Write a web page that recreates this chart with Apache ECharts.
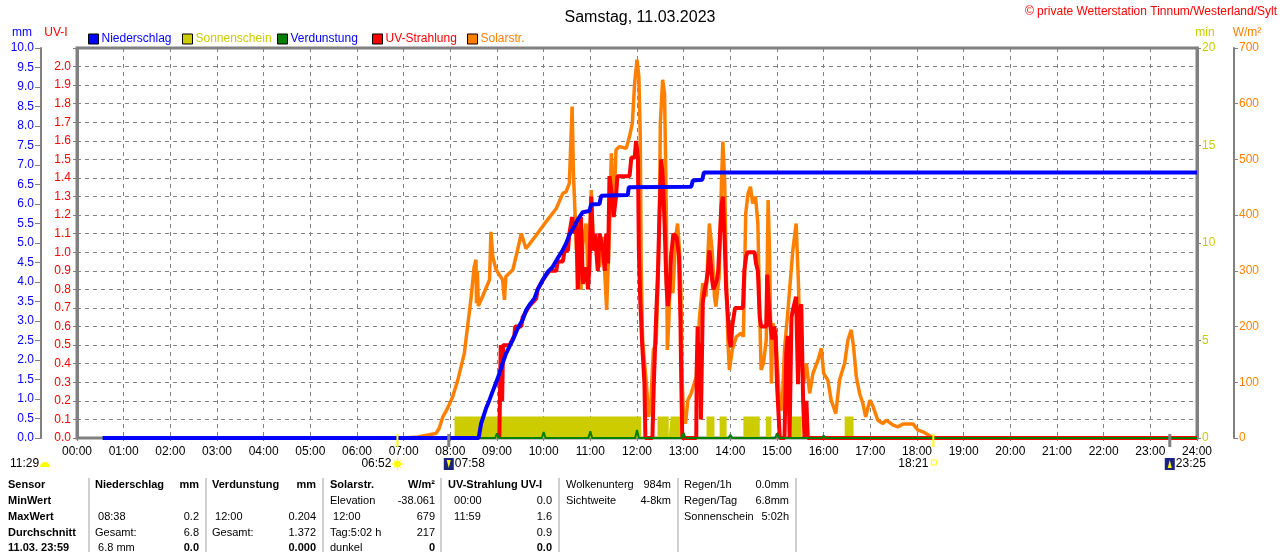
<!DOCTYPE html>
<html>
<head>
<meta charset="utf-8">
<title>Wetterstation Tinnum</title>
<script src="https://cdn.jsdelivr.net/npm/echarts@6/dist/echarts.min.js"></script>
<style>
  html, body { margin: 0; padding: 0; background: #fff; }
  #chart { width: 1280px; height: 552px; }
</style>
</head>
<body>
<div id="chart"></div>
<script>
// Niederschlag, kumuliert (Stunde, mm)
const rain = [[0.55,0],[8.607,0],[8.659,0.37],[8.766,0.76],[8.837,0.97],[8.944,1.31],[9.015,1.53],[9.122,1.92],[9.195,2.17],[9.336,2.51],[9.443,2.81],[9.551,3.03],[9.624,3.28],[9.694,3.41],[9.802,3.58],[9.873,3.81],[9.98,4.05],[10.087,4.26],[10.194,4.39],[10.301,4.61],[10.409,4.82],[10.481,4.99],[10.552,5.21],[10.659,5.43],[10.73,5.6],[10.837,5.79],[10.98,5.82],[11.018,5.99],[11.196,6.0],[11.232,6.21],[11.803,6.23],[11.824,6.43],[13.162,6.44],[13.197,6.6],[13.398,6.62],[13.433,6.81],[24,6.81]];

// Sonnenschein: Anfang / Ende der Sonnenphasen (Stunde), Höhe in min
const sunStart = [8.09, 12.44, 12.72, 13.49, 13.77, 14.28, 14.76, 15.31, 16.45];
const sunEnd   = [12.09, 12.68, 12.93, 13.66, 13.92, 14.63, 14.88, 15.53, 16.64];
const sunLevel = 1.1;

// Verdunstung je Stunde (mm)
const evapHours  = [1, 9, 10, 11, 12, 13, 14, 15, 16, 17, 18];
const evapValues = [0.01, 0.12, 0.15, 0.17, 0.204, 0.13, 0.08, 0.12, 0.06, 0.03, 0.02];

// UV-Strahlung (Stunde, UV-I)
const uv = [[9.05,0],[9.07,0],[9.08,0.5],[9.11,0.2],[9.13,0.5],[9.27,0.5],[9.37,0.55],[9.39,0.6],[9.52,0.6],[9.55,0.65],[9.69,0.71],[9.84,0.75],[9.87,0.8],[9.98,0.85],[10.12,0.9],[10.27,0.9],[10.30,0.95],[10.41,0.95],[10.45,1.01],[10.52,1.01],[10.55,1.1],[10.61,1.19],[10.66,1.1],[10.70,1.16],[10.73,0.8],[10.77,1.01],[10.80,1.19],[10.84,0.83],[10.91,0.92],[10.95,0.8],[10.98,0.92],[11.02,1.3],[11.06,1.01],[11.10,1.1],[11.16,0.9],[11.20,1.1],[11.27,1.01],[11.31,0.9],[11.34,1.1],[11.38,0.94],[11.41,1.41],[11.47,1.29],[11.50,1.19],[11.55,1.3],[11.58,1.41],[11.84,1.41],[11.88,1.51],[11.95,1.51],[11.98,1.6],[12.02,1.51],[12.04,1.01],[12.07,0.74],[12.11,0.51],[12.16,0.29],[12.18,0],[12.33,0],[12.36,0.29],[12.41,0.65],[12.45,0.9],[12.48,1.19],[12.52,1.5],[12.55,1.41],[12.59,1.16],[12.63,0.83],[12.66,0.71],[12.70,0.8],[12.73,0.98],[12.78,1.1],[12.85,1.08],[12.90,0.98],[12.93,0.65],[12.95,0.29],[12.97,0],[13.27,0],[13.28,0.38],[13.30,0.6],[13.32,0.29],[13.35,0.51],[13.37,0.1],[13.41,0.73],[13.45,0.8],[13.48,0.83],[13.52,0.9],[13.55,1.01],[13.58,0.94],[13.61,0.85],[13.64,0.8],[13.71,0.85],[13.74,0.9],[13.81,1.25],[13.84,1.3],[13.88,1.05],[13.91,0.8],[13.95,0.65],[13.98,0.53],[14.01,0.49],[14.04,0.6],[14.10,0.7],[14.27,0.7],[14.30,0.9],[14.34,0.98],[14.37,1.0],[14.52,1.0],[14.55,0.94],[14.59,0.9],[14.63,0.65],[14.66,0.6],[14.77,0.6],[14.79,0.88],[14.82,0.74],[14.86,0.6],[14.90,0.53],[14.94,0.6],[14.97,0.55],[15.0,0.29],[15.06,0],[15.16,0],[15.20,0.46],[15.23,0.55],[15.27,0],[15.31,0.65],[15.34,0.69],[15.41,0.76],[15.45,0.29],[15.48,0.69],[15.52,0.72],[15.56,0.2],[15.59,0],[15.63,0.2],[15.66,0],[24,0]];

// Solarstrahlung (Stunde, W/m²)
const solar = [[0.55,0],[7.0,0],[7.30,2],[7.69,8],[7.76,17],[7.84,38],[7.94,53],[8.05,74],[8.16,104],[8.23,128],[8.30,152],[8.37,200],[8.44,248],[8.51,307],[8.55,320],[8.56,242],[8.58,300],[8.60,237],[8.69,254],[8.84,284],[8.87,370],[8.91,325],[8.98,302],[9.12,284],[9.16,248],[9.19,290],[9.34,302],[9.44,337],[9.52,367],[9.62,340],[9.84,364],[10.05,388],[10.27,412],[10.41,439],[10.48,442],[10.55,457],[10.61,595],[10.64,469],[10.67,409],[10.70,337],[10.73,397],[10.77,325],[10.80,266],[10.84,349],[10.91,385],[10.95,290],[11.02,445],[11.07,337],[11.12,349],[11.20,307],[11.27,361],[11.35,230],[11.41,373],[11.45,511],[11.50,397],[11.55,517],[11.62,523],[11.77,520],[11.84,541],[11.90,565],[11.95,637],[12.00,679],[12.04,649],[12.07,541],[12.09,307],[12.12,176],[12.20,98],[12.25,38],[12.30,68],[12.35,158],[12.41,170],[12.45,278],[12.48,397],[12.50,565],[12.55,643],[12.59,619],[12.61,517],[12.63,397],[12.65,158],[12.68,206],[12.71,278],[12.77,260],[12.83,361],[12.87,385],[12.91,337],[12.94,266],[12.97,98],[13.00,32],[13.04,26],[13.09,68],[13.16,80],[13.27,110],[13.34,218],[13.41,278],[13.48,254],[13.55,385],[13.61,337],[13.66,254],[13.69,236],[13.76,290],[13.81,457],[13.84,532],[13.88,457],[13.91,307],[13.95,170],[13.98,122],[14.04,158],[14.13,182],[14.23,188],[14.28,182],[14.33,403],[14.38,439],[14.43,451],[14.48,421],[14.54,433],[14.59,385],[14.63,218],[14.66,122],[14.71,134],[14.77,176],[14.81,427],[14.84,337],[14.88,98],[14.91,206],[14.97,188],[15.06,56],[15.11,50],[15.16,158],[15.23,224],[15.31,307],[15.34,337],[15.41,385],[15.46,278],[15.49,160],[15.52,146],[15.57,98],[15.63,134],[15.70,80],[15.77,116],[15.88,140],[15.95,161],[16.00,116],[16.09,104],[16.16,68],[16.26,44],[16.34,104],[16.45,134],[16.52,176],[16.59,194],[16.64,164],[16.70,110],[16.77,80],[16.84,62],[16.90,38],[16.99,68],[17.06,56],[17.16,32],[17.27,26],[17.34,32],[17.49,23],[17.59,20],[17.70,25],[17.92,25],[18.02,14],[18.13,11],[18.27,4],[18.35,0],[24,0]];

// Sonnen- / Mondzeiten (Stunde) unter der Zeitachse
const sunrise = 6 + 52 / 60, sunset = 18 + 21 / 60;
const moonrise = 7 + 58 / 60, moonset = 23 + 25 / 60;

// Tabelle unter dem Diagramm
const tableCols = [
  { x: 8, w: 0, rows: [["Sensor", ""], ["MinWert", ""], ["MaxWert", ""], ["Durchschnitt", ""], ["11.03. 23:59", ""]], bold: true },
  { x: 95, w: 104, rows: [["Niederschlag", "mm"], ["", ""], [" 08:38", "0.2"], ["Gesamt:", "6.8"], [" 6.8 mm", "0.0"]] },
  { x: 212, w: 104, rows: [["Verdunstung", "mm"], ["", ""], [" 12:00", "0.204"], ["Gesamt:", "1.372"], ["", "0.000"]] },
  { x: 330, w: 105, rows: [["Solarstr.", "W/m²"], ["Elevation", "-38.061"], [" 12:00", "679"], ["Tag:5:02 h", "217"], ["dunkel", "0"]] },
  { x: 448, w: 104, rows: [["UV-Strahlung UV-I", ""], ["  00:00", "0.0"], ["  11:59", "1.6"], ["", "0.9"], ["", "0.0"]] },
  { x: 566, w: 105, rows: [["Wolkenunterg", "984m"], ["Sichtweite", "4-8km"], ["", ""], ["", ""], ["", ""]], plain: true },
  { x: 684, w: 105, rows: [["Regen/1h", "0.0mm"], ["Regen/Tag", "6.8mm"], ["Sonnenschein", "5:02h"], ["", ""], ["", ""]], plain: true }
];
const tableRowsY = [485, 501, 517, 533, 548];
const tableSeps = [89, 206, 323, 441, 559, 678, 796];

const FONT = "Liberation Sans, Arial, sans-serif";
const GRAY = "#808080";

function pad(n) { return (n < 10 ? "0" : "") + n; }

function sunData() {
  const d = [[0.55, 0]];
  sunStart.forEach((a, i) => {
    d.push([a, 0], [a, sunLevel], [sunEnd[i], sunLevel], [sunEnd[i], 0]);
  });
  d.push([24, 0]);
  return d;
}

function evapData() {
  const d = [[0.55, 0]];
  evapHours.forEach((h, i) => {
    d.push([h - 0.04, 0], [h, evapValues[i]], [h + 0.04, 0]);
  });
  d.push([24, 0]);
  return d;
}

const chart = echarts.init(document.getElementById("chart"));

function legendAt(left, name, color) {
  return {
    left: left, top: 33, padding: 0, itemWidth: 10, itemHeight: 10, icon: "rect",
    data: [name], selectedMode: false,
    itemStyle: { borderColor: "#000", borderWidth: 1 },
    textStyle: { color: color, fontSize: 12, fontFamily: FONT, padding: [1, 0, 0, -2] }
  };
}

const option = {
  animation: false,
  backgroundColor: "#fff",
  title: {
    text: "Samstag, 11.03.2023", left: "center", top: 5,
    textStyle: { fontSize: 16, fontWeight: "normal", color: "#000", fontFamily: FONT }
  },
  legend: [
    legendAt(88, "Niederschlag", "#0000ff"),
    legendAt(182, "Sonnenschein", "#cccc00"),
    legendAt(277, "Verdunstung", "#0000ff"),
    legendAt(372, "UV-Strahlung", "#ff0000"),
    legendAt(467, "Solarstr.", "#ff8000")
  ],
  grid: { left: 77, right: 83, top: 48, bottom: 114, show: true, borderColor: GRAY, borderWidth: 3, containLabel: false },
  xAxis: {
    type: "value", min: 0, max: 24, interval: 1,
    axisLine: { lineStyle: { color: GRAY, width: 1 } },
    axisTick: { length: 3, lineStyle: { color: GRAY } },
    axisLabel: { color: "#000", fontSize: 12, fontFamily: FONT, margin: 8, formatter: v => pad(v) + ":00" },
    splitLine: { show: true, lineStyle: { color: GRAY, type: [4, 4], width: 1 } }
  },
  yAxis: [
    { // UV-I
      type: "value", position: "left", min: 0, max: 2.1, interval: 0.1,
      axisLine: { show: true, lineStyle: { color: GRAY, width: 3 } },
      axisTick: { show: true, length: 4, lineStyle: { color: GRAY } },
      axisLabel: { color: "#ff0000", fontSize: 12, fontFamily: FONT, margin: 6,
        formatter: v => v > 2.05 ? "" : v.toFixed(1) },
      splitLine: { show: true, lineStyle: { color: GRAY, type: [4, 4], width: 1 } }
    },
    { // mm
      type: "value", position: "left", offset: 36, min: 0, max: 10, interval: 0.5,
      axisLine: { show: true, lineStyle: { color: GRAY, width: 2 } },
      axisTick: { show: true, length: 6, lineStyle: { color: GRAY } },
      axisLabel: { color: "#0000ff", fontSize: 12, fontFamily: FONT, margin: 7, formatter: v => v.toFixed(1) },
      splitLine: { show: false }
    },
    { // min
      type: "value", position: "right", min: 0, max: 20, interval: 5,
      axisLine: { show: true, lineStyle: { color: GRAY, width: 3 } },
      axisTick: { show: true, length: 4, lineStyle: { color: GRAY } },
      axisLabel: { color: "#cccc00", fontSize: 12, fontFamily: FONT, margin: 5 },
      splitLine: { show: false }
    },
    { // W/m²
      type: "value", position: "right", offset: 37, min: 0, max: 700, interval: 100,
      axisLine: { show: true, lineStyle: { color: GRAY, width: 2 } },
      axisTick: { show: true, length: 4, lineStyle: { color: GRAY } },
      axisLabel: { color: "#ff8000", fontSize: 12, fontFamily: FONT, margin: 5 },
      splitLine: { show: false }
    }
  ],
  series: [
    { name: "Sonnenschein", type: "line", yAxisIndex: 2, data: sunData(), z: 1,
      showSymbol: false, color: "#cccc00", lineStyle: { width: 0 },
      areaStyle: { color: "#cccc00", opacity: 1 } },
    { name: "Solarstr.", type: "line", yAxisIndex: 3, data: solar, z: 2,
      showSymbol: false, color: "#ff8000", lineStyle: { width: 3.5, color: "#ff8000" } },
    { name: "UV-Strahlung", type: "line", yAxisIndex: 0, data: uv, z: 3,
      showSymbol: false, color: "#ff0000", lineStyle: { width: 4, color: "#ff0000" } },
    { name: "Verdunstung", type: "line", yAxisIndex: 1, data: evapData(), z: 4,
      showSymbol: false, color: "#008000", lineStyle: { width: 2, color: "#008000" } },
    { name: "Niederschlag", type: "line", yAxisIndex: 1, data: rain, z: 5,
      showSymbol: false, color: "#0000ff", lineStyle: { width: 4, color: "#0000ff" } }
  ]
};
chart.setOption(option);

// Texte, Achsennamen, Sonnen-/Mondzeiten und Tabelle
function txt(x, y, s, opt) {
  opt = opt || {};
  return {
    type: "text", x: x, y: y, silent: true, z: 10,
    style: {
      text: s, fill: opt.color || "#000", fontSize: opt.size || 12,
      fontFamily: FONT, fontWeight: opt.bold ? "bold" : "normal",
      align: opt.align || "left", verticalAlign: "middle"
    }
  };
}

const X = t => chart.convertToPixel({ xAxisIndex: 0 }, t);
const baseY = chart.convertToPixel({ yAxisIndex: 0 }, 0);
const g = [];

g.push(txt(1277, 12, "© private Wetterstation Tinnum/Westerland/Sylt", { color: "#ff0000", align: "right" }));
g.push(txt(22, 33, "mm", { color: "#0000ff", align: "center" }));
g.push(txt(56, 33, "UV-I", { color: "#ff0000", align: "center" }));
g.push(txt(1205, 33, "min", { color: "#cccc00", align: "center" }));
g.push(txt(1247, 33, "W/m²", { color: "#ff8000", align: "center" }));

// Markierungen auf der Zeitachse
[[sunrise, "#ffff00", 2], [moonrise, GRAY, 3], [sunset, "#ffff00", 2], [moonset, GRAY, 3]].forEach(m => {
  g.push({ type: "line", silent: true, z: 9,
    shape: { x1: X(m[0]), y1: baseY - 4, x2: X(m[0]), y2: baseY + 9 },
    style: { stroke: m[1], lineWidth: m[2] } });
});

const iy = 464;
// Mond (links)
g.push(txt(10, iy, "11:29"));
g.push({ type: "sector", silent: true, shape: { cx: 45, cy: iy + 3, r: 5, startAngle: Math.PI, endAngle: 2 * Math.PI },
  style: { fill: "#ffff00" } });
// Sonnenaufgang
g.push(txt(X(sunrise) - 6, iy, "06:52", { align: "right" }));
g.push({ type: "circle", silent: true, shape: { cx: X(sunrise), cy: iy, r: 3.5 }, style: { fill: "#ffff00" } });
for (let k = 0; k < 8; k++) {
  const a = k * Math.PI / 4, sx = X(sunrise);
  g.push({ type: "line", silent: true, shape: { x1: sx + Math.cos(a) * 4, y1: iy + Math.sin(a) * 4, x2: sx + Math.cos(a) * 6, y2: iy + Math.sin(a) * 6 },
    style: { stroke: "#ffff00", lineWidth: 1 } });
}
// Mondaufgang
g.push({ type: "rect", silent: true, shape: { x: X(moonrise) - 5, y: iy - 6, width: 10, height: 12 }, style: { fill: "#1a237e" } });
g.push({ type: "polygon", silent: true, shape: { points: [[X(moonrise) - 2, iy - 4], [X(moonrise) + 2, iy - 4], [X(moonrise), iy + 4]] }, style: { fill: "#ffff00" } });
g.push(txt(X(moonrise) + 6, iy, "07:58"));
// Sonnenuntergang
g.push(txt(X(sunset) - 5, iy, "18:21", { align: "right" }));
g.push({ type: "rect", silent: true, shape: { x: X(sunset) - 2, y: iy - 4, width: 5, height: 5 }, style: { fill: "none", stroke: "#ffff00", lineWidth: 1 } });
// Monduntergang
g.push({ type: "rect", silent: true, shape: { x: X(moonset) - 5, y: iy - 6, width: 10, height: 12 }, style: { fill: "#1a237e" } });
g.push({ type: "polygon", silent: true, shape: { points: [[X(moonset) - 2, iy + 4], [X(moonset) + 2, iy + 4], [X(moonset), iy - 4]] }, style: { fill: "#ffff00" } });
g.push(txt(X(moonset) + 6, iy, "23:25"));

// Tabelle
tableSeps.forEach(x => {
  g.push({ type: "line", silent: true, shape: { x1: x, y1: 478, x2: x, y2: 552 }, style: { stroke: "#a0a0a0", lineWidth: 1 } });
});
tableCols.forEach(col => {
  col.rows.forEach((r, i) => {
    const head = i === 0 && !col.plain;
    const lastBold = i === 4;
    if (r[0]) g.push(txt(col.x, tableRowsY[i], r[0], { bold: col.bold || head, size: 11 }));
    if (r[1]) g.push(txt(col.x + col.w, tableRowsY[i], r[1], { align: "right", bold: head || lastBold, size: 11 }));
  });
});

chart.setOption({ graphic: { elements: g } });

window.addEventListener("resize", () => chart.resize());
</script>
</body>
</html>
